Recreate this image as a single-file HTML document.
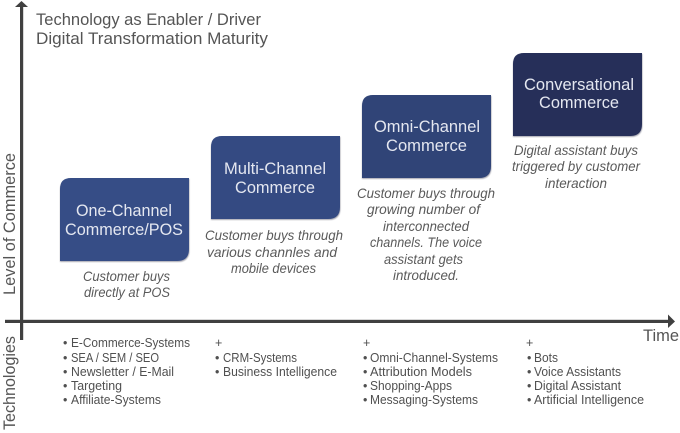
<!DOCTYPE html>
<html><head><meta charset="utf-8">
<style>
html,body{margin:0;padding:0;background:#fff;width:680px;height:433px;overflow:hidden}
svg{display:block;filter:blur(0.3px)}
text{font-family:"Liberation Sans",sans-serif;fill:#555}
.t{font-size:17px;fill:#555}
.b{font-size:16.5px;fill:#e4e7f0}
.c{font-size:14px;font-style:italic;fill:#5a5a5a}
.l{font-size:12.5px;fill:#505050}
.a{font-size:17px;fill:#555}
</style></head><body>
<svg width="680" height="433" viewBox="0 0 680 433" xmlns="http://www.w3.org/2000/svg">
<defs><filter id="s" x="-5%" y="-5%" width="110%" height="115%"><feGaussianBlur stdDeviation="0.6"/></filter></defs>

<!-- axes -->
<rect x="20" y="6" width="3.2" height="334" fill="#404040"/>
<polygon points="21.5,1 28,7 15,7" fill="#404040"/>
<rect x="5" y="319.8" width="664" height="3.2" fill="#404040"/>
<polygon points="675,321.5 668,314.5 668,328" fill="#404040"/>

<!-- boxes -->
<g fill="#a8a8b2" filter="url(#s)">
<path d="M71 179H189.500V250Q189.500 262 178 262H60V190Q60 179 71 179Z"/>
<path d="M222 137H340.500V208Q340.500 220 329 220H211V148Q211 137 222 137Z"/>
<path d="M373 96H491.500V167Q491.500 179 480 179H362V107Q362 96 373 96Z"/>
<path d="M524 54H642.500V125Q642.500 137 631 137H513V65Q513 54 524 54Z"/>
</g>
<path d="M71 178H189V249Q189 261 177 261H60V189Q60 178 71 178Z" fill="#364d86"/>
<path d="M222 136H340V207Q340 219 328 219H211V147Q211 136 222 136Z" fill="#344a82"/>
<path d="M373 95H491V166Q491 178 479 178H362V106Q362 95 373 95Z" fill="#304477"/>
<path d="M524 53H642V124Q642 136 630 136H513V64Q513 53 524 53Z" fill="#262f59"/>

<!-- title -->
<text class="t" x="36" y="25" textLength="225" lengthAdjust="spacingAndGlyphs">Technology as Enabler / Driver</text>
<text class="t" x="36" y="44" textLength="232" lengthAdjust="spacingAndGlyphs">Digital Transformation Maturity</text>

<!-- axis labels -->
<text class="a" transform="translate(15 295) rotate(-90)" textLength="142" lengthAdjust="spacingAndGlyphs">Level of Commerce</text>
<text class="a" transform="translate(15 430) rotate(-90)" textLength="94" lengthAdjust="spacingAndGlyphs">Technologies</text>
<text class="a" x="643" y="341" textLength="36" lengthAdjust="spacingAndGlyphs">Time</text>

<!-- box labels -->
<text class="b" x="76" y="216" textLength="96" lengthAdjust="spacingAndGlyphs">One-Channel</text>
<text class="b" x="65" y="235" textLength="118" lengthAdjust="spacingAndGlyphs">Commerce/POS</text>
<text class="b" x="224" y="174" textLength="102" lengthAdjust="spacingAndGlyphs">Multi-Channel</text>
<text class="b" x="235" y="193" textLength="80" lengthAdjust="spacingAndGlyphs">Commerce</text>
<text class="b" x="374" y="132" textLength="106" lengthAdjust="spacingAndGlyphs">Omni-Channel</text>
<text class="b" x="386" y="151" textLength="81" lengthAdjust="spacingAndGlyphs">Commerce</text>
<text class="b" x="524" y="90" textLength="110" lengthAdjust="spacingAndGlyphs">Conversational</text>
<text class="b" x="539" y="108" textLength="80" lengthAdjust="spacingAndGlyphs">Commerce</text>

<!-- captions -->
<text class="c" x="83" y="281" textLength="87" lengthAdjust="spacingAndGlyphs">Customer buys</text>
<text class="c" x="84" y="297" textLength="86" lengthAdjust="spacingAndGlyphs">directly at POS</text>
<text class="c" x="205" y="240" textLength="138" lengthAdjust="spacingAndGlyphs">Customer buys through</text>
<text class="c" x="207" y="257" textLength="130" lengthAdjust="spacingAndGlyphs">various channles and</text>
<text class="c" x="231" y="273" textLength="85" lengthAdjust="spacingAndGlyphs">mobile devices</text>
<text class="c" x="357" y="198" textLength="138" lengthAdjust="spacingAndGlyphs">Customer buys through</text>
<text class="c" x="367" y="214" textLength="113" lengthAdjust="spacingAndGlyphs">growing number of</text>
<text class="c" x="383" y="231" textLength="86" lengthAdjust="spacingAndGlyphs">interconnected</text>
<text class="c" x="370" y="247" textLength="112" lengthAdjust="spacingAndGlyphs">channels. The voice</text>
<text class="c" x="384" y="264" textLength="79" lengthAdjust="spacingAndGlyphs">assistant gets</text>
<text class="c" x="393" y="280" textLength="66" lengthAdjust="spacingAndGlyphs">introduced.</text>
<text class="c" x="514" y="155" textLength="124" lengthAdjust="spacingAndGlyphs">Digital assistant buys</text>
<text class="c" x="512" y="171" textLength="128" lengthAdjust="spacingAndGlyphs">triggered by customer</text>
<text class="c" x="545" y="188" textLength="62" lengthAdjust="spacingAndGlyphs">interaction</text>

<!-- lists -->
<g class="l">
<text class="l" x="63" y="347">•</text><text class="l" x="71" y="347" textLength="119" lengthAdjust="spacingAndGlyphs">E-Commerce-Systems</text>
<text class="l" x="63" y="362">•</text><text class="l" x="71" y="362" textLength="88" lengthAdjust="spacingAndGlyphs">SEA / SEM / SEO</text>
<text class="l" x="63" y="376">•</text><text class="l" x="71" y="376" textLength="103" lengthAdjust="spacingAndGlyphs">Newsletter / E-Mail</text>
<text class="l" x="63" y="390">•</text><text class="l" x="71" y="390" textLength="51" lengthAdjust="spacingAndGlyphs">Targeting</text>
<text class="l" x="63" y="404">•</text><text class="l" x="71" y="404" textLength="90" lengthAdjust="spacingAndGlyphs">Affiliate-Systems</text>

<text class="l" x="215" y="347">+</text>
<text class="l" x="215" y="362">•</text><text class="l" x="223" y="362" textLength="74" lengthAdjust="spacingAndGlyphs">CRM-Systems</text>
<text class="l" x="215" y="376">•</text><text class="l" x="223" y="376" textLength="114" lengthAdjust="spacingAndGlyphs">Business Intelligence</text>

<text class="l" x="363" y="347">+</text>
<text class="l" x="363" y="362">•</text><text class="l" x="370" y="362" textLength="128" lengthAdjust="spacingAndGlyphs">Omni-Channel-Systems</text>
<text class="l" x="363" y="376">•</text><text class="l" x="370" y="376" textLength="102" lengthAdjust="spacingAndGlyphs">Attribution Models</text>
<text class="l" x="363" y="390">•</text><text class="l" x="370" y="390" textLength="82" lengthAdjust="spacingAndGlyphs">Shopping-Apps</text>
<text class="l" x="363" y="404">•</text><text class="l" x="370" y="404" textLength="108" lengthAdjust="spacingAndGlyphs">Messaging-Systems</text>

<text class="l" x="526" y="347">+</text>
<text class="l" x="527" y="362">•</text><text class="l" x="534" y="362" textLength="24" lengthAdjust="spacingAndGlyphs">Bots</text>
<text class="l" x="527" y="376">•</text><text class="l" x="534" y="376" textLength="87" lengthAdjust="spacingAndGlyphs">Voice Assistants</text>
<text class="l" x="527" y="390">•</text><text class="l" x="534" y="390" textLength="87" lengthAdjust="spacingAndGlyphs">Digital Assistant</text>
<text class="l" x="527" y="404">•</text><text class="l" x="534" y="404" textLength="110" lengthAdjust="spacingAndGlyphs">Artificial Intelligence</text>
</g>
</svg>
</body></html>
